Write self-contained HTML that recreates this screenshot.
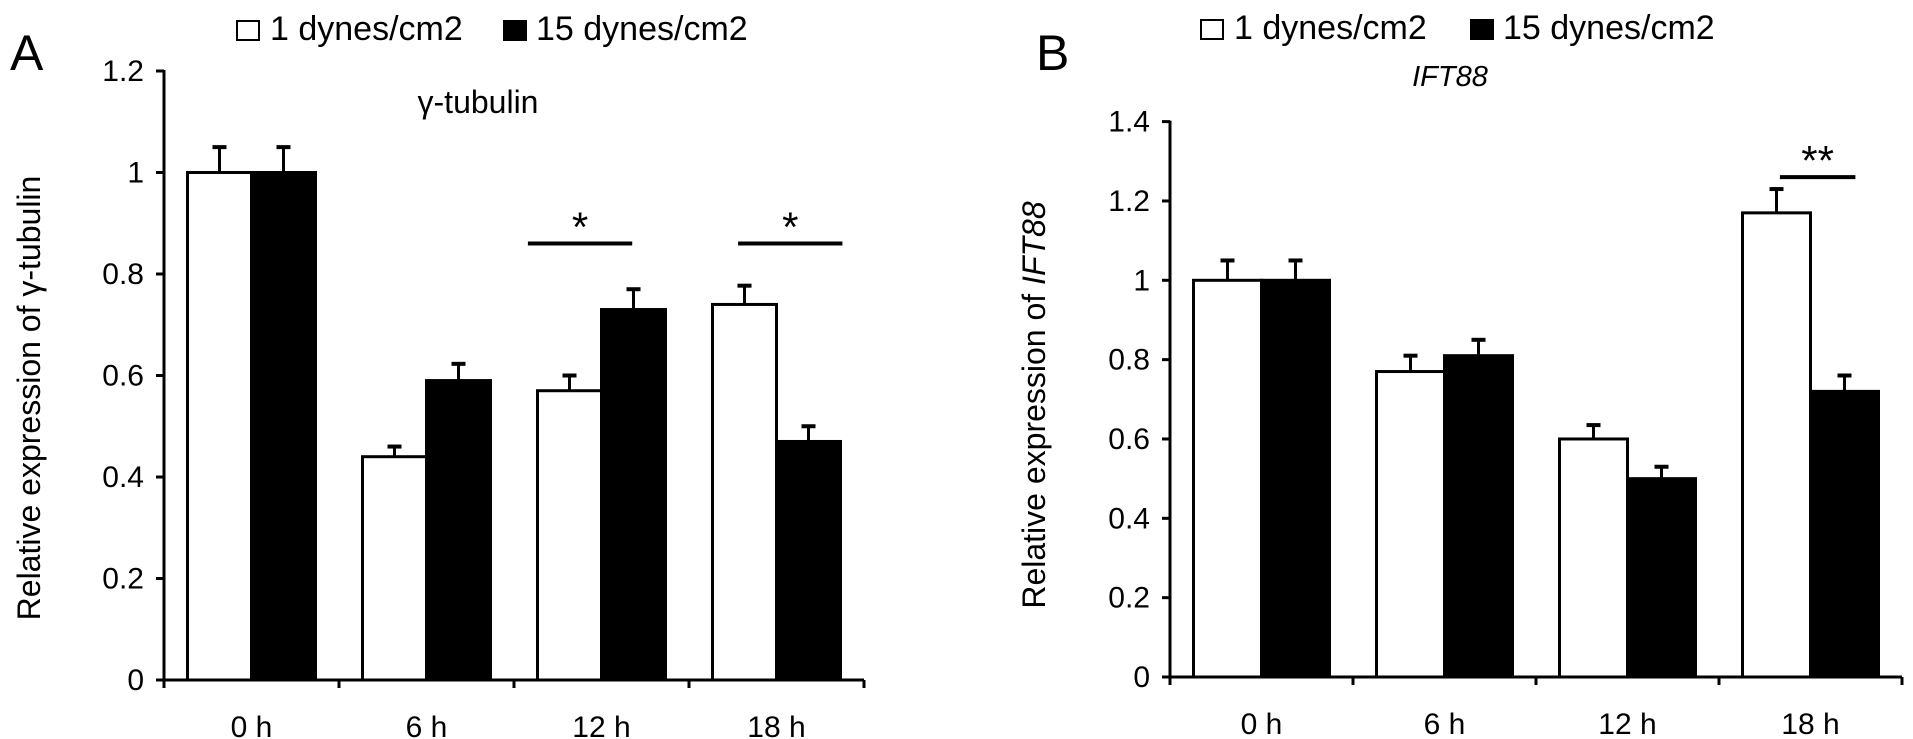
<!DOCTYPE html>
<html><head><meta charset="utf-8"><style>
html,body{margin:0;padding:0;background:#fff;}
svg{display:block;font-family:"Liberation Sans",Arial,sans-serif;}
</style></head><body>
<svg id="chart" width="1913" height="739" viewBox="0 0 1913 739">
<text x="10" y="70" font-size="50">A</text>
<text x="1036" y="70" font-size="50">B</text>
<g>
<rect x="237" y="21" width="22" height="19" fill="#fff" stroke="#000" stroke-width="2"/>
<text x="270" y="40" font-size="34">1 dynes/cm2</text>
<rect x="503" y="20" width="24" height="21" fill="#000"/>
<text x="536" y="40" font-size="34">15 dynes/cm2</text>
</g>
<g>
<rect x="1201" y="20" width="22" height="19" fill="#fff" stroke="#000" stroke-width="2"/>
<text x="1234" y="39" font-size="34">1 dynes/cm2</text>
<rect x="1470" y="19" width="24" height="21" fill="#000"/>
<text x="1503" y="39" font-size="34">15 dynes/cm2</text>
</g>
<g id="pa"></g><g id="pb"></g>
</svg>
<script>
const categories = ["0 h","6 h","12 h","18 h"];
const aLow = [1.0, 0.44, 0.57, 0.74];
const aLowErr = [0.05, 0.02, 0.03, 0.037];
const aHigh = [1.0, 0.59, 0.73, 0.47];
const aHighErr = [0.05, 0.033, 0.04, 0.03];
const aTicks = [0, 0.2, 0.4, 0.6, 0.8, 1, 1.2];
const aTickLabels = ["0","0.2","0.4","0.6","0.8","1","1.2"];
const bLow = [1.0, 0.77, 0.60, 1.17];
const bLowErr = [0.05, 0.04, 0.035, 0.06];
const bHigh = [1.0, 0.81, 0.50, 0.72];
const bHighErr = [0.05, 0.04, 0.03, 0.04];
const bTicks = [0, 0.2, 0.4, 0.6, 0.8, 1, 1.2, 1.4];
const bTickLabels = ["0","0.2","0.4","0.6","0.8","1","1.2","1.4"];
const aSig = [{cat:2, y:0.86, l:1.15, r:0.48, label:"*"}, {cat:3, y:0.86, l:0.6, r:1.03, label:"*"}];
const bSig = [{cat:3, y:1.26, l:0.45, r:0.66, label:"**"}];

const NS="http://www.w3.org/2000/svg";
function mk(parent, tag, attrs){const e=document.createElementNS(NS,tag);for(const k in attrs)e.setAttribute(k,attrs[k]);parent.appendChild(e);return e;}

function panel(g, o){
  const y = v => o.zero - v*o.unit;
  const x = i => o.x0 + (i+0.5)*o.pitch;
  const xEnd = o.x0 + categories.length*o.pitch;
  let ax = mk(g,'line',{x1:o.x0,y1:y(o.ticks[o.ticks.length-1])-1,x2:o.x0,y2:o.zero+8,stroke:'#000','stroke-width':3});
  
  
  let bx = mk(g,'line',{x1:o.x0-8,y1:o.zero,x2:xEnd,y2:o.zero,stroke:'#000','stroke-width':3});
  
  
  o.ticks.forEach((t,i)=>{
    let tk = mk(g,'line',{x1:o.x0-8,y1:y(t),x2:o.x0,y2:y(t),stroke:'#000','stroke-width':3});
    
    
    let tl = mk(g,'text',{x:o.x0-20,y:y(t)+10,'font-size':30,'text-anchor':'end'});
    tl.textContent = o.tickLabels[i];
    
    
  });
  for(let i=1;i<=categories.length;i++){
    let tk = mk(g,'line',{x1:o.x0+i*o.pitch,y1:o.zero,x2:o.x0+i*o.pitch,y2:o.zero+8,stroke:'#000','stroke-width':3});
    
    
  }
  categories.forEach((c,i)=>{
    const cx = x(i);
    [[o.low,o.lowErr,'#fff',-1],[o.high,o.highErr,'#000',0]].forEach(([vals,errs,fill,side],k)=>{
      const bxl = side<0 ? cx-o.bw : cx;
      const top = y(vals[i]);
      const mid = bxl + o.bw/2;
      let e = mk(g,'line',{x1:mid,y1:top,x2:mid,y2:y(vals[i]+errs[i]),stroke:'#000','stroke-width':3});
      
      
      let cap = mk(g,'line',{x1:mid-7,y1:y(vals[i]+errs[i]),x2:mid+7,y2:y(vals[i]+errs[i]),stroke:'#000','stroke-width':4});
      
      
      let r = mk(g,'rect',{x:bxl,y:top,width:o.bw,height:o.zero-top,fill:fill,stroke:'#000','stroke-width':3});
      
      
    });
    let xl = mk(g,'text',{x:cx,y:o.zero+57,'font-size':30,'text-anchor':'middle'});
    xl.textContent = c;
    
    
  });
  o.sig.forEach(s=>{
    const cx = x(s.cat);
    const x1 = cx - o.bw*s.l, x2 = cx + o.bw*s.r;
    let l = mk(g,'line',{x1:x1,y1:y(s.y),x2:x2,y2:y(s.y),stroke:'#000','stroke-width':4});
    
    
    let t = mk(g,'text',{x:(x1+x2)/2,y:y(s.y)-2,'font-size':42,'text-anchor':'middle'});
    t.textContent = s.label;
    
    
  });
  let title = mk(g,'text',{x:o.titleX,y:o.titleY,'font-size':o.titleSize,'text-anchor':'middle','font-style':o.italic?'italic':'normal'});
  title.textContent = o.title;
  
  
  let yt = mk(g,'text',{x:0,y:0,'font-size':32,'text-anchor':'middle',transform:`translate(${o.ytX},${o.ytY}) rotate(-90)`});
  yt.innerHTML = o.ytHtml;
  
  
}

panel(document.getElementById('pa'),{x0:164,zero:680,unit:507.5,pitch:175,bw:64,ticks:aTicks,tickLabels:aTickLabels,
  low:aLow,lowErr:aLowErr,high:aHigh,highErr:aHighErr,sig:aSig,
  title:"γ-tubulin",titleX:478,titleY:113,titleSize:32,italic:false,ytX:40,ytY:398,ytHtml:"Relative expression of γ-tubulin"});
panel(document.getElementById('pb'),{x0:1170,zero:677,unit:396.7,pitch:183,bw:68,ticks:bTicks,tickLabels:bTickLabels,
  low:bLow,lowErr:bLowErr,high:bHigh,highErr:bHighErr,sig:bSig,
  title:"IFT88",titleX:1450,titleY:86,titleSize:29,italic:true,ytX:1045,ytY:405,ytHtml:'Relative expression of <tspan font-style="italic">IFT88</tspan>'});
</script>
</body></html>
